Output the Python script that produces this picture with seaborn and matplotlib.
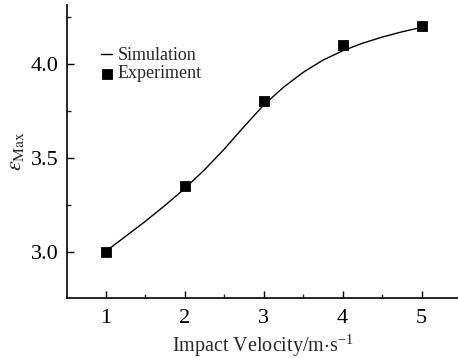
import numpy as np
import pandas as pd
import seaborn as sns
import matplotlib.pyplot as plt
from matplotlib.ticker import MultipleLocator

# experiment points
exp_velocity = [1, 2, 3, 4, 5]
exp_strain = [3.00, 3.35, 3.80, 4.10, 4.20]

# simulation curve
sim_velocity = [1.0, 1.25, 1.5, 1.75, 2.0, 2.25, 2.5, 2.75, 3.0,
                3.25, 3.5, 3.75, 4.0, 4.25, 4.5, 4.75, 5.0]
sim_strain = [3.00, 3.08, 3.16, 3.245, 3.335, 3.435, 3.545, 3.665, 3.78,
              3.875, 3.955, 4.02, 4.07, 4.11, 4.143, 4.171, 4.195]

sns.set_style('ticks')
plt.rcParams['font.family'] = ['Liberation Serif', 'DejaVu Serif']
plt.rcParams['mathtext.fontset'] = 'stix'

fig = plt.figure(figsize=(4.58, 3.58), dpi=100)
ax = fig.add_axes([0.146, 0.168, 0.854, 0.818])

sim = pd.DataFrame({'v': sim_velocity, 'e': sim_strain})
exp = pd.DataFrame({'v': exp_velocity, 'e': exp_strain})

sns.lineplot(data=sim, x='v', y='e', ax=ax, color='black', lw=1,
             label='Simulation')
sns.scatterplot(data=exp, x='v', y='e', ax=ax, marker='s', s=55,
                color='black', edgecolor='black', label='Experiment',
                zorder=3)

ax.set_xlim(0.51, 5.46)
ax.set_ylim(2.753, 4.314)
ax.xaxis.set_major_locator(MultipleLocator(1))
ax.xaxis.set_minor_locator(MultipleLocator(0.5))
ax.yaxis.set_minor_locator(MultipleLocator(0.25))
ax.set_yticks([3.0, 3.5, 4.0])
ax.set_yticklabels(['3.0', '3.5', '4.0'])
ax.tick_params(which='major', direction='in', length=5, width=1,
               labelsize=16, colors='black', pad=6)
ax.tick_params(axis='x', which='major', pad=8)
ax.tick_params(which='minor', direction='in', length=3, width=1)

for side in ['top', 'right']:
    ax.spines[side].set_visible(False)
for side in ['left', 'bottom']:
    ax.spines[side].set_linewidth(1.2)
    ax.spines[side].set_color('black')

ax.set_xlabel(r'Impact Velocity/m$\cdot$s$^{\mathregular{-1}}$', fontsize=14.5,
              labelpad=3)
ax.set_ylabel(r'$\varepsilon_{\mathrm{Max}}$', fontsize=16, labelpad=3)

ax.legend(loc='upper left', bbox_to_anchor=(0.07, 0.88), frameon=False,
          fontsize=13, handlelength=0.6, handletextpad=0.3,
          labelspacing=0.05, borderaxespad=0)

fig.savefig('out.png', dpi=100)
